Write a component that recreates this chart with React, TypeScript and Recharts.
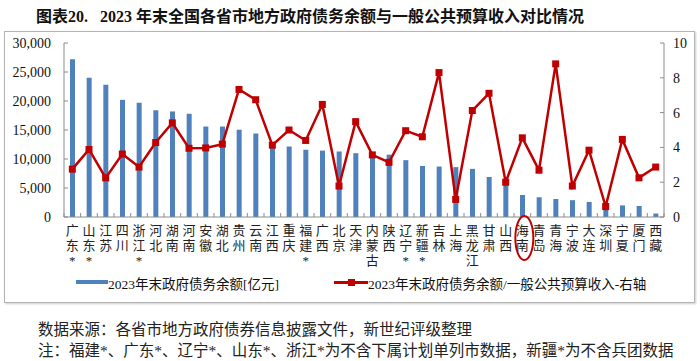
import {
  ComposedChart,
  Bar,
  Line,
  XAxis,
  YAxis,
} from "recharts";

const provinces = [
  "广东*", "山东*", "江苏", "四川", "浙江*", "河北", "湖南", "河南", "安徽",
  "湖北", "贵州", "云南", "江西", "重庆", "福建*", "广西", "北京", "天津",
  "内蒙古", "陕西", "辽宁*", "新疆*", "吉林", "上海", "黑龙江", "甘肃", "山西",
  "海南", "青岛", "青海", "宁波", "大连", "深圳", "宁夏", "厦门", "西藏",
];

// 2023年末政府债务余额[亿元]
const debtBalance = [
  27200, 24000, 22800, 20200, 19700, 18400, 18200, 17800, 15600,
  15600, 15050, 14400, 12900, 12150, 11600, 11450, 11300, 11000,
  10600, 10750, 9800, 8800, 8700, 8600, 8300, 6900, 6200,
  3800, 3400, 3100, 2900, 2600, 1800, 2000, 1900, 600,
];

// 债务余额/一般公共预算收入 (右轴)
const debtRatio = [
  2.75, 3.88, 2.25, 3.62, 2.87, 4.28, 5.41, 3.95, 3.97,
  4.19, 7.33, 6.74, 4.13, 5.0, 4.4, 6.47, 1.78, 5.48,
  3.57, 3.14, 4.96, 4.61, 8.3, 1.01, 6.12, 7.11, 2.0,
  4.55, 2.69, 8.8, 1.78, 3.84, 0.6, 4.46, 2.25, 2.87,
];

const leftTicks = [0, 5000, 10000, 15000, 20000, 25000, 30000];
const rightTicks = [0, 2, 4, 6, 8, 10];

const data = provinces.map((name, i) => ({
  name,
  debt: debtBalance[i],
  ratio: debtRatio[i],
}));

const FONT = "'Liberation Serif', 'Noto Sans CJK SC', serif";
const AXIS_COLOR = "#8c8c8c";
const BAR_COLOR = "#4F81BD";
const LINE_COLOR = "#C00000";

const CategoryTick = (props: any) => {
  const { x, y, payload, index, visibleTicksCount } = props;
  const half = payload.offset || 8.33;
  const chars = String(payload.value).split("");
  return (
    <g>
      <line x1={x - half} x2={x - half} y1={y} y2={y - 4} stroke={AXIS_COLOR} />
      {index === visibleTicksCount - 1 && (
        <line x1={x + half} x2={x + half} y1={y} y2={y - 4} stroke={AXIS_COLOR} />
      )}
      <text textAnchor="middle" fontSize={13} fill="#222" fontFamily={FONT}>
        {chars.map((c, i) => (
          <tspan key={i} x={x} y={y + 18 + i * 15}>
            {c}
          </tspan>
        ))}
      </text>
      {payload.value === "海南" && (
        <ellipse
          cx={x + 2}
          cy={y + 21}
          rx={9}
          ry={22}
          fill="none"
          stroke={LINE_COLOR}
          strokeWidth={2}
        />
      )}
    </g>
  );
};

const LeftTick = (props: any) => {
  const { x, y, payload } = props;
  return (
    <g>
      <line x1={x} x2={x + 4} y1={y} y2={y} stroke={AXIS_COLOR} />
      <text x={x - 13} y={y + 5} textAnchor="end" fontSize={14} fill="#111" fontFamily={FONT}>
        {Number(payload.value).toLocaleString("en-US")}
      </text>
    </g>
  );
};

const RightTick = (props: any) => {
  const { x, y, payload } = props;
  return (
    <g>
      <line x1={x - 4} x2={x} y1={y} y2={y} stroke={AXIS_COLOR} />
      <text x={x + 9} y={y + 5} textAnchor="start" fontSize={14} fill="#111" fontFamily={FONT}>
        {payload.value}
      </text>
    </g>
  );
};

const SquareDot = (props: any) => {
  const { cx, cy, index } = props;
  if (cx == null || cy == null) return <g key={index} />;
  return <rect key={index} x={cx - 3.5} y={cy - 3.5} width={7} height={7} fill={LINE_COLOR} />;
};

export default function App() {
  return (
    <div
      style={{
        position: "absolute",
        left: 0,
        top: 0,
        width: 700,
        height: 361,
        background: "#fff",
        fontFamily: FONT,
        overflow: "hidden",
      }}
    >
      <div
        style={{
          position: "absolute",
          left: 36,
          top: 3,
          fontSize: 16,
          fontWeight: 700,
          whiteSpace: "pre",
          color: "#111",
        }}
      >
        {"图表20.   2023 年末全国各省市地方政府债务余额与一般公共预算收入对比情况"}
      </div>

      <div
        style={{
          position: "absolute",
          left: 4,
          top: 31,
          width: 689,
          height: 270,
          border: "1px solid #b4b4b4",
          boxShadow: "1px 1px 2px #ccc",
        }}
      />

      <div style={{ position: "absolute", left: 0, top: 0 }}>
        <ComposedChart
          width={700}
          height={300}
          data={data}
          margin={{ top: 43, right: 6, left: 4, bottom: 23 }}
        >
          <XAxis
            dataKey="name"
            interval={0}
            height={60}
            tickSize={0}
            tickMargin={0}
            tick={<CategoryTick />}
            axisLine={{ stroke: AXIS_COLOR }}
          />
          <YAxis
            yAxisId="left"
            width={60}
            domain={[0, 30000]}
            ticks={leftTicks}
            tickSize={0}
            tickMargin={0}
            tick={<LeftTick />}
            axisLine={{ stroke: AXIS_COLOR }}
          />
          <YAxis
            yAxisId="right"
            orientation="right"
            width={30}
            domain={[0, 10]}
            ticks={rightTicks}
            tickSize={0}
            tickMargin={0}
            tick={<RightTick />}
            axisLine={{ stroke: AXIS_COLOR }}
          />
          <Bar
            yAxisId="left"
            dataKey="debt"
            name="2023年末政府债务余额[亿元]"
            fill={BAR_COLOR}
            barSize={5}
            isAnimationActive={false}
          />
          <Line
            yAxisId="right"
            type="linear"
            dataKey="ratio"
            name="2023年末政府债务余额/一般公共预算收入-右轴"
            stroke={LINE_COLOR}
            strokeWidth={2.5}
            dot={<SquareDot />}
            activeDot={false}
            isAnimationActive={false}
          />
        </ComposedChart>
      </div>

      {/* legend */}
      <div style={{ position: "absolute", left: 76, top: 280, width: 32, height: 4, background: BAR_COLOR }} />
      <div style={{ position: "absolute", left: 108, top: 273, fontSize: 13.5, color: "#111", whiteSpace: "pre" }}>
        2023年末政府债务余额[亿元]
      </div>
      <div style={{ position: "absolute", left: 334, top: 281, width: 34, height: 2.5, background: LINE_COLOR }} />
      <div style={{ position: "absolute", left: 347.5, top: 278.5, width: 7, height: 7, background: LINE_COLOR }} />
      <div style={{ position: "absolute", left: 368, top: 273, fontSize: 13.5, color: "#111", whiteSpace: "pre" }}>
        2023年末政府债务余额/一般公共预算收入-右轴
      </div>

      {/* footer */}
      <div style={{ position: "absolute", left: 38, top: 321, fontSize: 15.5, lineHeight: "17px", color: "#222", whiteSpace: "pre" }}>
        数据来源：各省市地方政府债券信息披露文件，新世纪评级整理
      </div>
      <div style={{ position: "absolute", left: 38, top: 342, fontSize: 15.5, lineHeight: "17px", color: "#222", whiteSpace: "pre" }}>
        注：福建*、广东*、辽宁*、山东*、浙江*为不含下属计划单列市数据，新疆*为不含兵团数据
      </div>
    </div>
  );
}
